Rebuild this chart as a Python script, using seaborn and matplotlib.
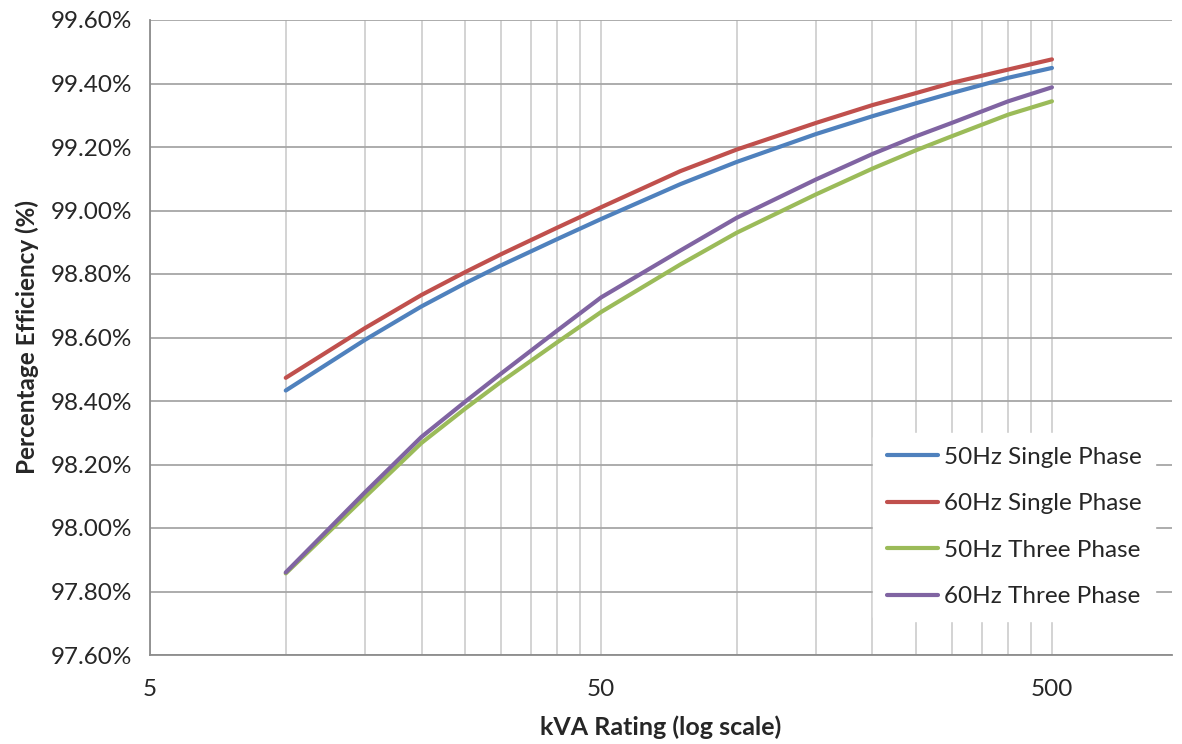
import pandas as pd
import numpy as np
import seaborn as sns
import matplotlib.pyplot as plt
from matplotlib.ticker import FixedLocator, NullFormatter, FuncFormatter

# kVA ratings (x) and efficiencies in percent
kva = [10, 15, 20, 25, 30, 40, 50, 75, 100, 150, 200, 250, 300, 400, 500]
eff_50_single = [98.433, 98.593, 98.698, 98.771, 98.827, 98.910, 98.973, 99.083,
                 99.153, 99.241, 99.297, 99.338, 99.370, 99.418, 99.449]
eff_60_single = [98.473, 98.630, 98.734, 98.806, 98.862, 98.946, 99.010, 99.124,
                 99.192, 99.276, 99.332, 99.370, 99.402, 99.444, 99.476]
eff_50_three = [97.857, 98.098, 98.268, 98.376, 98.460, 98.585, 98.680, 98.830,
                98.930, 99.051, 99.132, 99.190, 99.234, 99.302, 99.344]
eff_60_three = [97.860, 98.113, 98.287, 98.398, 98.486, 98.622, 98.726, 98.874,
                98.977, 99.098, 99.178, 99.234, 99.276, 99.344, 99.388]

series_names = ['50Hz Single Phase', '60Hz Single Phase', '50Hz Three Phase', '60Hz Three Phase']
colors = ['#4F81BD', '#C0504D', '#9BBB59', '#8064A2']
y_ticks = [97.6, 97.8, 98.0, 98.2, 98.4, 98.6, 98.8, 99.0, 99.2, 99.4, 99.6]
x_ticks = [5, 50, 500]

# long format table for seaborn
frames = []
for name, vals in zip(series_names, [eff_50_single, eff_60_single, eff_50_three, eff_60_three]):
    frames.append(pd.DataFrame({'kVA': kva, 'Efficiency': vals, 'Series': name}))
data = pd.concat(frames, ignore_index=True)

sns.set_style('white')
plt.rcParams['font.family'] = ['Lato', 'DejaVu Sans']

fig = plt.figure(figsize=(11.82, 7.44), dpi=100)
ax = fig.add_axes([150 / 1182, 1 - 655 / 744, 1022 / 1182, 635 / 744])

sns.lineplot(data=data, x='kVA', y='Efficiency', hue='Series', hue_order=series_names,
             palette=colors, linewidth=3, ax=ax, zorder=3)

ax.set_xscale('log')
ax.set_xlim(5, 923)
ax.set_ylim(97.6, 99.6)

# ticks and grid (Excel style)
ax.xaxis.set_major_locator(FixedLocator(x_ticks))
ax.xaxis.set_major_formatter(FuncFormatter(lambda v, p: '%g' % v))
minor_x = [m * d for d in [5, 50] for m in range(2, 10)] + [500]
ax.xaxis.set_minor_locator(FixedLocator(minor_x))
ax.xaxis.set_minor_formatter(NullFormatter())
ax.set_yticks(y_ticks)
ax.yaxis.set_major_formatter(FuncFormatter(lambda v, p: '%.2f%%' % v))

ax.grid(axis='y', which='major', color='#A6A6A6', linewidth=1.3)
ax.grid(axis='x', which='both', color='#D0D0D0', linewidth=1.3)
ax.set_axisbelow(True)

for s in ['top', 'right']:
    ax.spines[s].set_visible(False)
for s in ['left', 'bottom']:
    ax.spines[s].set_color('#8C8C8C')
    ax.spines[s].set_linewidth(1.3)

ax.tick_params(axis='both', which='major', direction='out', length=6.5, width=1.3,
               color='#8C8C8C', labelsize=17.5, labelcolor='#262626')
ax.tick_params(axis='y', which='major', length=6, pad=7)
ax.tick_params(axis='x', which='major', pad=11)
ax.tick_params(axis='x', which='minor', length=0)

ax.set_xlabel('kVA Rating (log scale)', fontsize=18, fontweight='bold', labelpad=11)
ax.set_ylabel('Percentage Efficiency (%)', fontsize=17.5, fontweight='bold', labelpad=8)

leg = ax.legend(loc='lower right', bbox_to_anchor=(0.995, 0.035), fontsize=17.5,
                frameon=True, facecolor='white', edgecolor='white', framealpha=1,
                labelspacing=1.05, handlelength=2.1, handletextpad=0.25, borderpad=0.55)
for line in leg.get_lines():
    line.set_linewidth(3)
for t in leg.get_texts():
    t.set_color('#262626')

fig.savefig('out.png', dpi=100)
